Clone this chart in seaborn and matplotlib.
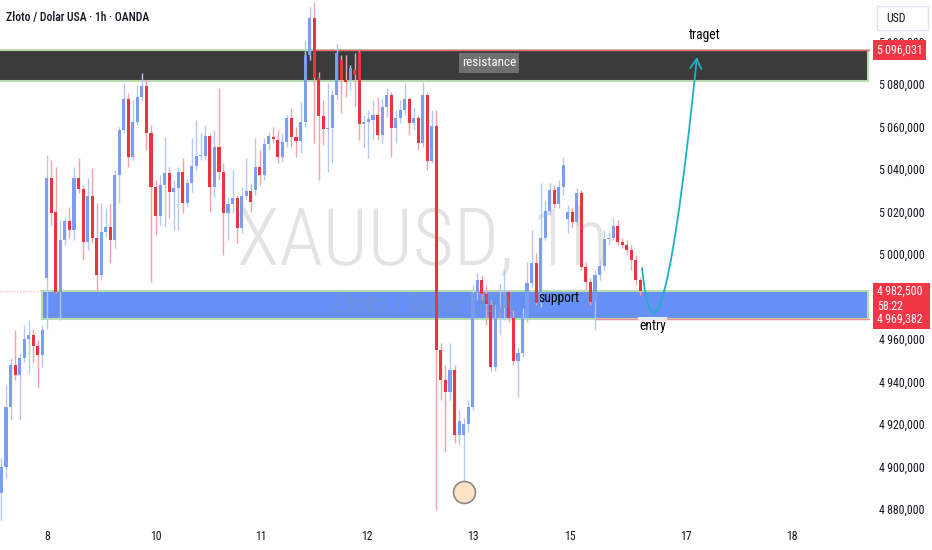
import numpy as np
import pandas as pd
import matplotlib.pyplot as plt
import matplotlib.font_manager as fm
import seaborn as sns
from matplotlib.patches import Rectangle, FancyArrowPatch
from matplotlib.path import Path


def pick_font(cands):
    for c in cands:
        try:
            fm.findfont(fm.FontProperties(family=c), fallback_to_default=False)
            return c
        except ValueError:
            pass
    return "DejaVu Sans"


sns.set_theme(style="white")
FONT = pick_font(["Roboto Condensed", "Fira Sans Condensed", "Barlow Semi Condensed",
                  "PT Sans Narrow", "Archivo Narrow", "Roboto"])
plt.rcParams['font.family'] = [FONT, 'DejaVu Sans']

# OHLC, velas de 1h
opens = [4887.5, 4899.8, 4928.0, 4947.8, 4943.1, 4951.1, 4960.1, 4962.0, 4956.8, 4952.6,
         4988.8, 5035.8, 5019.8, 4982.1, 5006.6, 5015.5, 5011.3, 5035.8, 5030.6, 5005.6,
         5027.3, 5007.5, 4990.1, 5010.5, 5012.7, 5006.6, 5037.2, 5058.4, 5072.9, 5045.6,
         5062.1, 5073.9, 5079.1, 5056.9, 5031.5, 5017.9, 5032.5, 5038.1, 5029.2, 5031.0,
         5038.6, 5023.9, 5033.4, 5041.4, 5046.1, 5046.1, 5055.5, 5031.5, 5050.4, 5038.6,
         5019.4, 5023.5, 5026.3, 5012.2, 5027.3, 5029.6, 5030.1, 5040.9, 5037.2, 5051.8,
         5055.0, 5053.6, 5045.6, 5052.7, 5064.0, 5055.0, 5053.2, 5062.1, 5093.6, 5111.1,
         5082.8, 5064.9, 5058.8, 5059.3, 5074.8, 5091.3, 5081.9, 5081.9, 5086.6, 5095.0,
         5061.2, 5062.1, 5063.1, 5065.4, 5056.0, 5069.2, 5074.8, 5059.3, 5064.0, 5067.8,
         5072.9, 5061.6, 5064.0, 5052.2, 5074.8, 5043.7, 5060.2, 4954.8, 4940.7, 4935.0,
         4945.4, 4914.8, 4914.8, 4920.0, 4928.0, 4981.7, 4987.8, 4981.2, 4976.0, 4946.9,
         4969.9, 4974.6, 4982.1, 4969.9, 4949.6, 4953.5, 4969.9, 4986.4, 4995.8, 4977.0,
         5007.5, 5020.2, 5030.1, 5023.5, 5031.5, 5016.5, 5019.8, 5015.0, 5028.7, 4993.9,
         4986.8, 4977.4, 4990.1, 4994.3, 5007.0, 5007.5, 5013.2, 5005.6, 5004.2, 5001.9,
         4997.1, 4987.8]
highs = [4904.0, 4938.4, 4951.1, 4964.3, 4953.5, 4966.6, 4969.0, 4964.8, 4959.7, 4966.6,
         5046.6, 5044.2, 5040.8, 5016.0, 5017.4, 5022.1, 5040.8, 5045.1, 5032.5, 5035.8,
         5040.4, 5023.9, 5023.9, 5021.6, 5023.9, 5039.5, 5059.8, 5080.5, 5075.7, 5072.5,
         5079.5, 5085.2, 5081.9, 5060.7, 5034.8, 5037.2, 5055.0, 5040.8, 5034.8, 5040.8,
         5045.1, 5035.8, 5054.6, 5063.1, 5056.9, 5060.7, 5056.9, 5058.4, 5078.1, 5042.8,
         5026.8, 5039.5, 5027.8, 5031.5, 5045.1, 5033.4, 5054.6, 5048.9, 5054.6, 5057.4,
         5059.8, 5058.4, 5056.9, 5065.4, 5068.7, 5059.8, 5071.5, 5100.7, 5116.2, 5118.6,
         5085.6, 5072.5, 5080.5, 5077.2, 5099.3, 5093.6, 5093.6, 5088.9, 5094.6, 5096.0,
         5065.4, 5067.8, 5072.5, 5073.9, 5073.4, 5078.1, 5076.2, 5067.8, 5072.5, 5080.5,
         5073.9, 5069.2, 5065.4, 5080.9, 5075.7, 5067.8, 5067.8, 4958.1, 4947.8, 4958.1,
         4947.8, 4926.6, 4922.8, 4931.3, 4985.4, 4991.0, 4990.1, 4985.4, 4978.4, 4976.0,
         4986.4, 4992.5, 4983.0, 4973.6, 4956.3, 4974.6, 4996.2, 5011.3, 5000.5, 5033.4,
         5025.4, 5033.4, 5032.5, 5034.8, 5045.6, 5023.0, 5021.6, 5031.0, 5030.1, 4996.2,
         4988.7, 4992.5, 4997.1, 5011.3, 5010.5, 5016.9, 5016.0, 5007.5, 5006.6, 5004.2,
         4999.5, 4989.2]
lows = [4874.8, 4894.6, 4921.9, 4940.7, 4921.9, 4949.4, 4944.1, 4948.9, 4936.9, 4946.9,
        4964.8, 5013.8, 4981.7, 4969.0, 5004.2, 5007.5, 5006.6, 5028.7, 4997.1, 5001.9,
        5005.2, 4983.0, 4987.8, 5008.0, 4995.8, 5002.8, 5023.9, 5056.9, 5040.8, 5044.2,
        5060.7, 5072.5, 5048.9, 4986.8, 5008.9, 5013.8, 5012.7, 5016.9, 5011.3, 5011.3,
        5019.4, 5022.1, 5029.2, 5039.5, 5044.2, 5044.2, 5019.8, 5026.8, 5034.8, 4999.5,
        5006.6, 5019.4, 5005.2, 5009.9, 5025.4, 5019.8, 5027.8, 5032.5, 5034.8, 5048.9,
        5052.2, 5042.8, 5043.3, 5050.4, 5050.4, 5045.6, 5047.5, 5059.8, 5091.3, 5052.2,
        5034.8, 5051.3, 5038.6, 5042.8, 5072.5, 5066.4, 5073.9, 5077.2, 5069.2, 5053.6,
        5049.9, 5045.1, 5053.6, 5053.6, 5052.2, 5064.5, 5045.6, 5052.2, 5061.6, 5065.4,
        5056.0, 5058.4, 5048.9, 5050.4, 5039.5, 5042.8, 4879.5, 4931.3, 4906.8, 4931.3,
        4911.0, 4910.1, 4888.0, 4916.2, 4926.6, 4978.4, 4978.4, 4966.6, 4945.0, 4945.0,
        4962.0, 4969.0, 4968.0, 4947.8, 4932.7, 4951.5, 4968.0, 4984.5, 4976.0, 4975.1,
        5006.6, 5018.4, 5022.1, 5021.6, 5027.8, 5009.9, 5012.2, 5013.8, 4992.5, 4983.0,
        4976.0, 4964.3, 4987.8, 4992.5, 5004.2, 5006.6, 5004.2, 5002.8, 4999.5, 4992.5,
        4985.4, 4980.7]
closes = [4899.8, 4928.0, 4947.8, 4943.1, 4951.1, 4960.1, 4962.0, 4956.8, 4952.6, 4964.3,
          5035.8, 5019.4, 4982.1, 5006.6, 5015.5, 5011.3, 5035.8, 5030.6, 5005.6, 5027.3,
          5007.5, 4990.1, 5010.5, 5012.7, 5006.6, 5037.2, 5058.4, 5072.9, 5045.6, 5062.1,
          5073.9, 5079.1, 5056.9, 5031.5, 5017.9, 5032.5, 5038.1, 5029.2, 5031.0, 5038.6,
          5023.9, 5033.4, 5041.4, 5046.1, 5046.6, 5055.5, 5031.5, 5050.4, 5038.6, 5019.4,
          5023.5, 5026.3, 5012.2, 5027.3, 5029.6, 5024.5, 5040.9, 5037.2, 5051.8, 5055.5,
          5054.1, 5045.6, 5052.7, 5064.0, 5055.0, 5053.2, 5062.1, 5093.6, 5111.1, 5082.8,
          5064.9, 5058.8, 5059.3, 5074.8, 5094.6, 5081.9, 5080.9, 5087.5, 5084.2, 5061.2,
          5062.1, 5063.5, 5065.4, 5056.0, 5069.2, 5074.8, 5059.3, 5064.0, 5067.8, 5072.9,
          5061.6, 5064.0, 5052.2, 5074.8, 5043.7, 5060.2, 4954.8, 4940.7, 4935.0, 4945.4,
          4914.8, 4921.4, 4920.0, 4928.0, 4981.7, 4987.8, 4981.2, 4976.5, 4946.9, 4969.9,
          4974.6, 4982.1, 4969.9, 4949.6, 4953.5, 4969.9, 4986.4, 4995.8, 4977.0, 5007.5,
          5020.2, 5030.1, 5023.5, 5031.5, 5041.9, 5019.8, 5015.0, 5028.7, 4993.9, 4986.8,
          4977.4, 4990.1, 4994.3, 5007.0, 5007.5, 5013.2, 5005.6, 5004.2, 5001.9, 4997.1,
          4987.8, 4982.5]

# eje de tiempo (posición de vela) y etiquetas de días
day_pos = [10, 34, 57.3, 80.7, 104, 125.5, 151, 174.5]
day_labels = ['8', '10', '11', '12', '13', '15', '17', '18']
price_ticks = list(range(4880, 5101, 20))

resistance = (5081.4, 5096.031)
support = (4969.382, 4982.5)
last_price = 4982.5
low_candle = 102

df = pd.DataFrame({"open": opens, "high": highs, "low": lows, "close": closes})
df["i"] = np.arange(len(df))
df["up"] = df["close"] >= df["open"]

UP, DOWN = "#7b9ef2", "#ec3440"
UP_W, DOWN_W = "#b4c7f7", "#f4a3a9"

fig = plt.figure(figsize=(9.32, 5.5), dpi=100)
ax = fig.add_axes([0, 28 / 550, 870 / 932, 522 / 550])
ax.set_xlim(-0.33, 191.7)
ax.set_ylim(4873.9, 5119.5)

# marca de agua
ax.text(93, 5005, "XAUUSD, 1h", fontsize=57, color="#e3e3e3", ha="center", va="center",
        weight="light", zorder=1)

# zonas
ax.add_patch(Rectangle((-1, resistance[0]), 192.3, resistance[1] - resistance[0],
                       fc="#3b3b3b", ec="#b9dbb0", lw=1.5, zorder=2))
ax.add_patch(Rectangle((8.94, support[0]), 182.4, support[1] - support[0],
                       fc="#6690f5", ec="#b9dbb0", lw=1.5, zorder=2))
ax.axhline(last_price, color="#f23645", lw=0.8, ls=(0, (1, 2)), alpha=0.5, zorder=1.5)
ax.hlines(resistance[1], 68.8, 191.7, color="#f0616b", lw=1, zorder=2.5)
ax.hlines(support[0], 131, 191.7, color="#f08a90", lw=1, zorder=2.5)

ax.text(93, 4976, "Złoto / Dolar USA", fontsize=19, color="#8899aa", alpha=0.3,
        ha="center", va="center", zorder=5)

# velas
ax.vlines(df["i"], df["low"], df["high"],
          colors=np.where(df["up"], UP_W, DOWN_W), lw=1, zorder=3)
body_lo = df[["open", "close"]].min(axis=1)
body_h = (df["close"] - df["open"]).abs().clip(lower=0.5)
ax.bar(df["i"], body_h, bottom=body_lo, width=0.68,
       color=np.where(df["up"], UP, DOWN), lw=0, zorder=4)

# marcador del mínimo
ax.scatter([low_candle], [df.loc[low_candle, "low"]], s=250, fc="#fbe3c5", ec="#8a8a8a",
           lw=1.2, zorder=5)

# flecha curva hacia el objetivo
verts = [(141.4, 4993.4), (143.2, 4954.8), (147.1, 4959.5), (153.5, 5092.7)]
arrow = FancyArrowPatch(path=Path(verts, [Path.MOVETO, Path.CURVE4, Path.CURVE4, Path.CURVE4]),
                        arrowstyle="->,head_length=7,head_width=4", color="#1fb0c6", lw=1.3, zorder=6)
ax.add_patch(arrow)
ax.add_patch(Rectangle((140.5, 4968.9), 6.4, 1.4, fc="#e4e9f2", ec="none", zorder=5))

# etiquetas de texto
ax.text(107.6, 5089.9, "resistance", fontsize=9.5, color="white", ha="center", va="center", zorder=7,
        bbox=dict(boxstyle="square,pad=0.25", fc="#707070", ec="none"))
ax.text(118.4, 4979.3, "support", fontsize=9.8, color="black", ha="left", va="center", zorder=7)
ax.text(143.8, 4966.1, "entry", fontsize=9.8, color="black", ha="center", va="center", zorder=7)
ax.text(155.3, 5103.1, "traget", fontsize=9.8, color="black", ha="center", va="center", zorder=7)

# ejes
ax.set_xticks(day_pos)
ax.set_xticklabels(day_labels)
ax.yaxis.tick_right()
ax.set_yticks(price_ticks)
ax.set_yticklabels(["" if v == 4980 else f"{v // 1000}\u2009{v % 1000:03d},000" for v in price_ticks])
ax.tick_params(axis="y", length=0, pad=6.5, labelsize=8.6, colors="#131722")
ax.tick_params(axis="x", length=0, pad=6, labelsize=8.6, colors="#131722")
ax.grid(False)
for s in ax.spines.values():
    s.set_visible(False)

# etiquetas de precio en rojo
trans = ax.get_yaxis_transform()
ax.text(1.008, resistance[1], "5\u2009096,031", transform=trans, ha="left", va="center", color="white",
        fontsize=8.6, clip_on=False, zorder=10,
        bbox=dict(boxstyle="square,pad=0.3", fc="#f23645", ec="none"))
ax.add_patch(Rectangle((1.0035, 4964.7), 0.0655, 21.7, transform=trans, fc="#f23645", ec="none",
                       clip_on=False, zorder=9))
ax.text(1.008, last_price, "4\u2009982,500", transform=trans, ha="left", va="center", color="white",
        fontsize=8.6, clip_on=False, zorder=10)
ax.text(1.008, 4975.1, "58:22", transform=trans, ha="left", va="center", color="white",
        fontsize=8.6, clip_on=False, zorder=10)
ax.text(1.008, support[0], "4\u2009969,382", transform=trans, ha="left", va="center", color="white",
        fontsize=8.6, clip_on=False, zorder=10)

fig.add_artist(Rectangle((877 / 932, 1 - 30 / 550), 51 / 932, 24 / 550, transform=fig.transFigure,
                         fc="white", ec="#e0e3eb", lw=1))
fig.text(886 / 932, 1 - 18 / 550, "USD", fontsize=8.6, color="#131722", va="center")
fig.text(6 / 932, 1 - 18 / 550, "Złoto / Dolar USA · 1h · OANDA", fontsize=8.4,
         color="#131722", va="center", weight="medium")

fig.savefig("out.png", dpi=100)
